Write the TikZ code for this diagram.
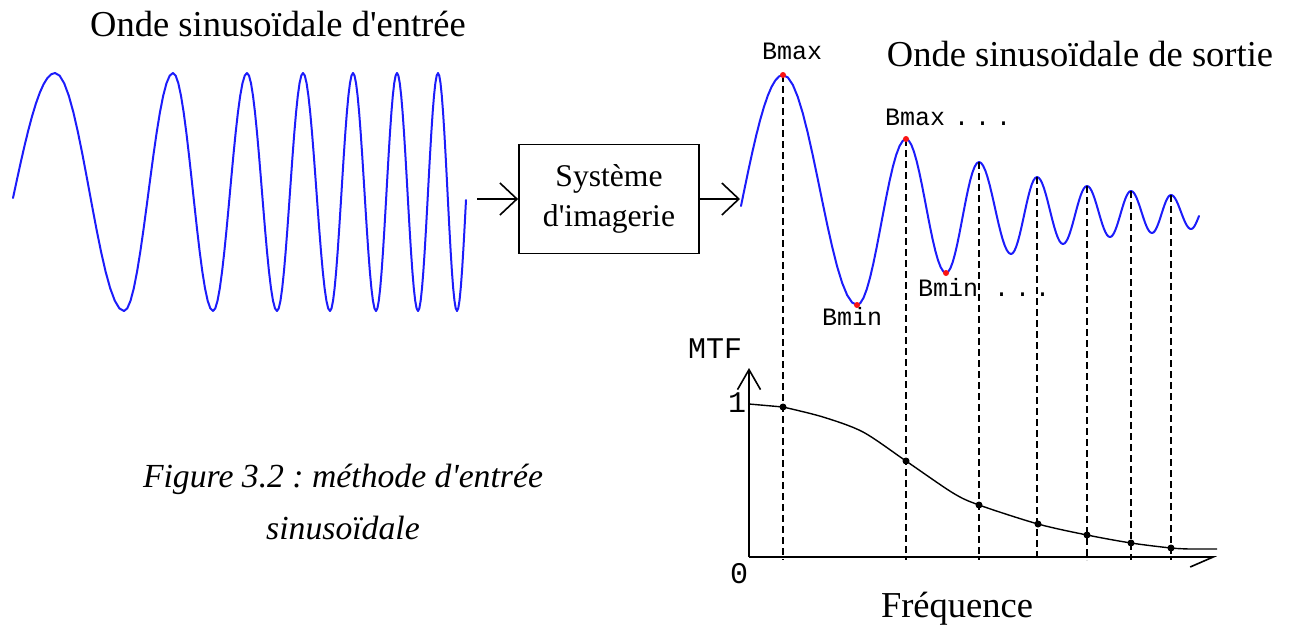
\documentclass[tikz,border=0pt]{standalone}
\usepackage{fontspec}
\setmainfont{Liberation Serif}[Ligatures=TeXOff]
\setmonofont{Liberation Mono}
\usepackage{tikz}
\usetikzlibrary{arrows.meta,positioning}

\definecolor{waveblue}{RGB}{28,28,250}
\definecolor{peakred}{RGB}{250,20,20}

\begin{document}
\frenchspacing
\begin{tikzpicture}[x=1pt,y=-1pt,
			title/.style={font=\fontsize{36.5}{40}\selectfont, inner sep=0pt},
			caption/.style={font=\itshape\fontsize{33.7}{40}\selectfont, inner sep=0pt},
			lbl/.style={font=\ttfamily\fontsize{25}{28}\selectfont, inner sep=0pt},
			axlbl/.style={font=\ttfamily\fontsize{30}{34}\selectfont, inner sep=0pt},
			box/.style={draw, line width=1.8pt, minimum width=180pt, minimum height=109pt, align=center, inner sep=0pt, font=\fontsize{31.6}{40}\selectfont},
			ar/.style={-{Straight Barb[length=17pt,width=32pt]}, line width=1.6pt},
			wave/.style={draw=waveblue, line width=2pt, line cap=round, line join=round},
			guide/.style={dash pattern=on 7pt off 4pt, line width=1.8pt},
			curve/.style={line width=1.4pt},
			dotblk/.style={fill=black},
			dotred/.style={fill=peakred}]
			\useasboundingbox (0,0) rectangle (1293,630);
			% texts
			\node[title, anchor=base] (tin) at (278,36) {Onde sinusoïdale d'entrée};
			\node[title, anchor=base] (tout) at (1080,66) {Onde sinusoïdale de sortie};
			\node[caption, anchor=base] (cap1) at (343,487) {Figure 3.2 : méthode d'entrée};
			\node[caption, anchor=base] (cap2) at (343,539) {sinusoïdale};
			\node[title, anchor=base] (freq) at (957,617) {Fréquence};
			% system block
			\node[box] (sys) at (609,199) {Système\\d'imagerie};
			\coordinate (inA) at (477,199);
			\coordinate (outA) at (740,199);
			\draw[ar] (inA) -- (sys);
			\draw[ar] (sys) -- (outA);
			% input wave
			\draw[wave] plot[domain=0:1, samples=12, variable=\t] ({13+42*\t}, {198-125*sin(90*\t)});
			\foreach \xb/\yb [remember=\xb as \xa (initially 55), remember=\yb as \ya (initially 73)] in
				{124/311, 173/73, 213/311, 247/73, 277/311, 303/73, 330/311, 353/73, 376/311, 397/73, 418/311, 438/73, 457/311}
				\draw[wave] plot[domain=0:1, samples=16, variable=\t] ({\xa+(\xb-\xa)*\t}, {(\ya+\yb)/2+(\ya-\yb)/2*cos(180*\t)});
			\draw[wave] plot[domain=0:1, samples=8, variable=\t] ({457+9*\t}, {311-111*(1-cos(90*\t))});
			% output wave
			\draw[wave] plot[domain=0:1, samples=12, variable=\t] ({741+42*\t}, {206-131*sin(90*\t)});
			\foreach \xb/\yb [remember=\xb as \xa (initially 783), remember=\yb as \ya (initially 75)] in
				{857/305, 906/139, 946/273, 979/162, 1011/254, 1037/177, 1063/244, 1087/186, 1110/237, 1131/191, 1152/233, 1171/195, 1191/229}
				\draw[wave] plot[domain=0:1, samples=16, variable=\t] ({\xa+(\xb-\xa)*\t}, {(\ya+\yb)/2+(\ya-\yb)/2*cos(180*\t)});
			\draw[wave] plot[domain=0:1, samples=8, variable=\t] ({1191+8*\t}, {229-13*(1-cos(90*\t))});
			% guides from the peaks down to the axis
			\foreach \xp/\yp in {783/75, 906/139, 979/162, 1037/177, 1087/186, 1131/191, 1171/195}
				\draw[guide] (\xp,\yp) -- (\xp,560);
			% extrema labels
			\fill[dotred] (783,75) circle (3pt);
			\fill[dotred] (857,305) circle (3pt);
			\fill[dotred] (906,139) circle (3pt);
			\fill[dotred] (946,273) circle (3pt);
			\node[lbl, anchor=base west] (bmax1) at (762,59) {Bmax};
			\node[lbl, anchor=base west] (bmax2) at (885,125) {Bmax\hspace{9pt}.\hspace{6pt}.\hspace{6pt}.};
			\node[lbl, anchor=base west] (bmin1) at (822,325) {Bmin};
			\node[lbl, anchor=base west] (bmin2) at (918,296) {Bmin\hspace{16pt}.\hspace{6pt}.\hspace{5pt}.};
			% MTF axes
			\coordinate (orig) at (749,557);
			\coordinate (ytop) at (749,368);
			\coordinate (xend) at (1217,557);
			\draw[-{Straight Barb[length=20pt,width=23pt]}, line width=1.6pt] (orig) -- (ytop);
			\draw[-{Straight Barb[harpoon,swap,length=23pt,width=20pt]}, line width=1.6pt] (orig) -- (xend);
			\node[axlbl, anchor=base west] (mtf) at (688,358) {MTF};
			\node[axlbl, anchor=base west] (one) at (728,412) {1};
			\node[axlbl, anchor=base west] (zero) at (730,583) {0};
			% MTF curve
			\draw[curve] (749,404) -- (783,407) plot[smooth, tension=0.5] coordinates {(783,407) (823,417) (863,432) (906,461) (953,493) (979,505) (1038,524) (1087,535) (1131,543) (1171,548) (1190,549)} -- (1217,549);
			\foreach \xp/\yp in {783/407, 906/461, 979/505, 1038/524, 1087/535, 1131/543, 1171/548}
				\fill[dotblk] (\xp,\yp) circle (3.5pt);
		\end{tikzpicture}
\end{document}
